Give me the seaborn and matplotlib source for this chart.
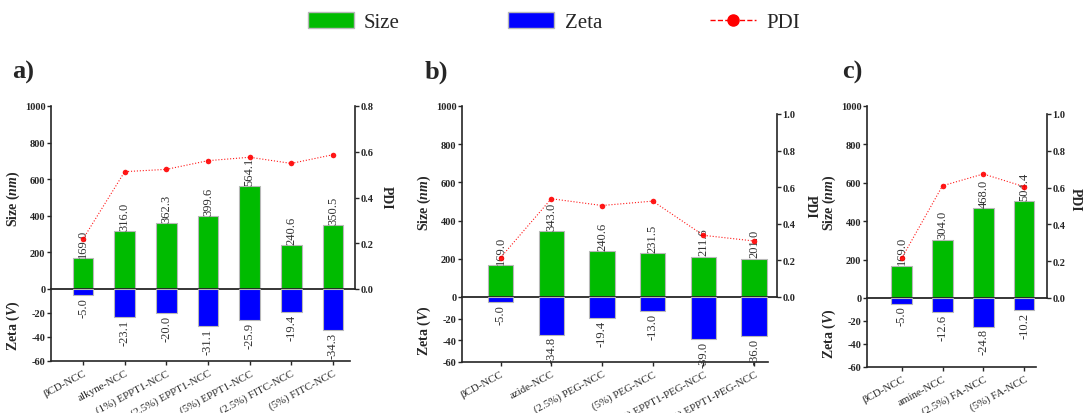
import numpy as np
import pandas as pd
import matplotlib
matplotlib.use("Agg")
import matplotlib.pyplot as plt
import seaborn as sns
from matplotlib.patches import Patch
from matplotlib.lines import Line2D

# panel a
cats_a = ["βCD-NCC", "alkyne-NCC", "(1%) EPPT1-NCC", "(2.5%) EPPT1-NCC",
          "(5%) EPPT1-NCC", "(2.5%) FITC-NCC", "(5%) FITC-NCC"]
size_a = [169.0, 316.0, 362.3, 399.6, 564.1, 240.6, 350.5]
zeta_a = [-5.0, -23.1, -20.0, -31.1, -25.9, -19.4, -34.3]
pdi_a = [0.219, 0.513, 0.523, 0.561, 0.576, 0.549, 0.587]

# panel b
cats_b = ["βCD-NCC", "azide-NCC", "(2.5%) PEG-NCC", "(5%) PEG-NCC",
          "(2.5%) EPPT1-PEG-NCC", "(5%) EPPT1-PEG-NCC"]
size_b = [169.0, 343.0, 240.6, 231.5, 211.6, 201.0]
zeta_b = [-5.0, -34.8, -19.4, -13.0, -39.0, -36.0]
pdi_b = [0.215, 0.537, 0.500, 0.524, 0.337, 0.306]

# panel c
cats_c = ["βCD-NCC", "amine-NCC", "(2.5%) FA-NCC", "(5%) FA-NCC"]
size_c = [169.0, 304.0, 468.0, 504.4]
zeta_c = [-5.0, -12.6, -24.8, -10.2]
pdi_c = [0.216, 0.610, 0.674, 0.605]

GREEN = "#00bb00"
BLUE = "#0000ff"
RED = "#ff0000"

sns.set_style("ticks")
plt.rcParams["font.family"] = ["Liberation Serif", "DejaVu Serif"]
plt.rcParams["mathtext.fontset"] = "custom"
plt.rcParams["mathtext.it"] = "Liberation Serif:italic:bold"
plt.rcParams["mathtext.rm"] = "Liberation Serif:bold"
plt.rcParams["axes.unicode_minus"] = False

W, H = 1083, 414
fig = plt.figure(figsize=(W / 100, H / 100), dpi=100)


def rect(x0, x1, y0, y1):
    # pixel box -> figure fraction
    return [x0 / W, 1 - y1 / H, (x1 - x0) / W, (y1 - y0) / H]


def panel(cats, size, zeta, pdi, box, pdi_max, xlim, bot_end, letter, lpos):
    x0, x1, ytop, yzero, ybot, yp = box
    ax = fig.add_axes(rect(x0, x1, ytop, yzero))
    axb = fig.add_axes(rect(x0, x1, yzero, ybot))
    df = pd.DataFrame({"cat": cats, "size": size, "zeta": zeta, "pdi": pdi})

    sns.barplot(data=df, x="cat", y="size", color=GREEN, width=0.5, ax=ax,
                edgecolor="#b8b8b8", linewidth=0.8, saturation=1)
    sns.barplot(data=df, x="cat", y="zeta", color=BLUE, width=0.5, ax=axb,
                edgecolor="#b8b8b8", linewidth=0.8, saturation=1)

    for i, v in enumerate(size):
        ax.text(i, v + 6, f"{v:.1f}", rotation=90, ha="center", va="bottom",
                fontsize=9, color="#333333")
    for i, v in enumerate(zeta):
        axb.text(i, v - 1.5, f"{v:.1f}", rotation=90, ha="center", va="top",
                 fontsize=9, color="#333333")

    # top axes (Size)
    ax.set_xlim(*xlim)
    ax.set_ylim(0, 1000)
    ax.set_yticks(range(0, 1001, 200))
    ax.set_xticks([])
    ax.set_xlabel("")
    ax.set_ylabel(r"Size ($\mathit{nm}$)", fontsize=10, fontweight="bold")
    ax.spines["top"].set_visible(False)
    ax.spines["right"].set_visible(False)
    ax.spines["bottom"].set_linewidth(1.3)
    ax.spines["left"].set_linewidth(1.2)
    ax.patch.set_alpha(0)

    # bottom axes (Zeta)
    axb.set_xlim(*xlim)
    axb.set_ylim(-60, 0)
    axb.set_yticks([-60, -40, -20])
    axb.set_xticks(range(len(cats)))
    axb.set_xticklabels(cats, rotation=28, ha="right", rotation_mode="anchor",
                        fontsize=7.8)
    axb.set_xlabel("")
    axb.set_ylabel(r"Zeta ($\mathit{V}$)", fontsize=10, fontweight="bold")
    axb.spines["top"].set_visible(False)
    axb.spines["right"].set_visible(False)
    axb.spines["bottom"].set_bounds(xlim[0], bot_end)
    axb.spines["left"].set_linewidth(1.2)
    axb.spines["bottom"].set_linewidth(1.2)
    axb.patch.set_alpha(0)

    for a in (ax, axb):
        a.tick_params(axis="y", labelsize=7.5, length=3, width=1, pad=1)
        a.tick_params(axis="x", length=3, width=1, pad=2)
        for t in a.get_yticklabels():
            t.set_fontweight("bold")
    ax.yaxis.set_label_coords(-29 / (x1 - x0), 0.5)
    axb.yaxis.set_label_coords(-29 / (x1 - x0), 0.5)

    # PDI axis
    axr = ax.twinx()
    sns.lineplot(x=np.arange(len(cats)), y=pdi, ax=axr, color=RED, lw=0.8,
                 linestyle=":", marker="o", markersize=4, markeredgewidth=0,
                 alpha=0.9)
    scale = (yzero - ytop) / (yzero - yp)
    axr.set_ylim(0, pdi_max * scale)
    axr.set_xlim(*xlim)
    ticks = np.arange(0, pdi_max + 0.01, 0.2)
    axr.set_yticks(ticks)
    axr.set_yticklabels([f"{t:.1f}" for t in ticks])
    for side in ("top", "left", "bottom"):
        axr.spines[side].set_visible(False)
    axr.spines["right"].set_bounds(0, pdi_max)
    axr.spines["right"].set_linewidth(1.2)
    axr.tick_params(axis="y", labelsize=7.5, length=3, width=1, pad=1)
    for t in axr.get_yticklabels():
        t.set_fontweight("bold")
    fig.text(lpos[0] / W, 1 - lpos[1] / H, "PDI", rotation=270, fontsize=10,
             fontweight="bold", ha="center", va="center")

    fig.text(letter[1] / W, 1 - 72 / H, letter[0], fontsize=19,
             fontweight="bold", va="center", ha="left")


panel(cats_a, size_a, zeta_a, pdi_a, (51, 355, 107, 290, 362, 107), 0.8,
      (-0.77, 6.53), 6.4, ("a)", 12), (386, 198))
panel(cats_b, size_b, zeta_b, pdi_b, (462, 777, 107, 298, 363, 115), 1.0,
      (-0.76, 5.45), 5.28, ("b)", 425), (810, 207))
panel(cats_c, size_c, zeta_c, pdi_c, (867, 1047, 107, 299, 368, 115), 1.0,
      (-0.85, 3.56), 3.29, ("c)", 842), (1075, 200))

handles = [Patch(facecolor=GREEN, edgecolor="#b8b8b8", label="Size"),
           Patch(facecolor=BLUE, edgecolor="#b8b8b8", label="Zeta"),
           Line2D([0], [0], color=RED, ls="--", lw=1, marker="o",
                  markersize=8, label="PDI")]
fig.legend(handles=handles, loc="center", bbox_to_anchor=(554 / W, 1 - 23 / H),
           ncol=3, frameon=False, fontsize=15, handlelength=2.2,
           handleheight=0.85, columnspacing=5.2, handletextpad=0.5)

fig.savefig("out.png", dpi=100)
